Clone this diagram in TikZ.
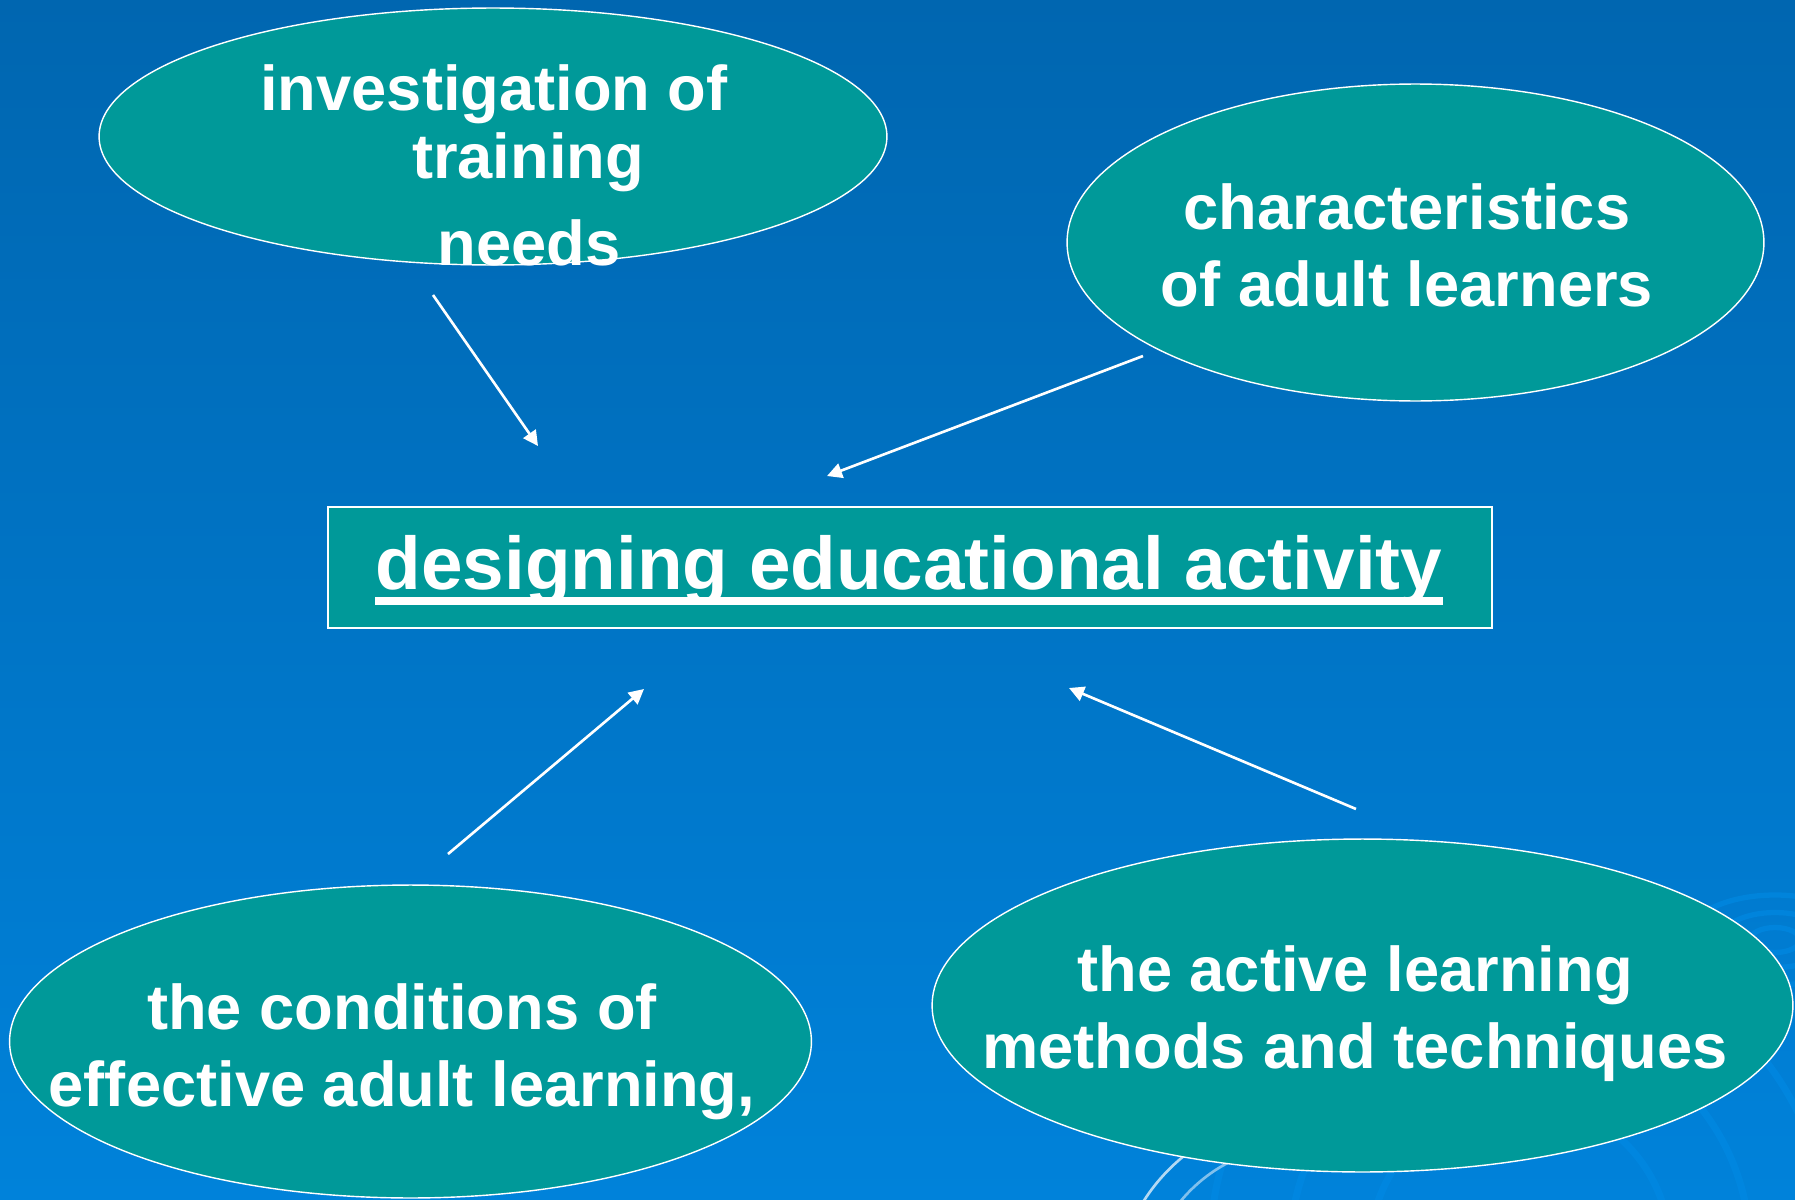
\documentclass[tikz,border=0pt]{standalone}
\usepackage{fontspec}
\setmainfont{Liberation Sans}
\usetikzlibrary{arrows.meta,shapes.geometric,calc}

\definecolor{slideblue}{RGB}{0,102,176}
\definecolor{slidebluelow}{RGB}{0,130,218}
\definecolor{ripple}{RGB}{0,138,228}
\definecolor{bubbleteal}{RGB}{0,153,153}

\tikzset{
  bubble/.style={ellipse, draw=white, line width=0.8pt, fill=bubbleteal, inner sep=0pt},
  bubbletext/.style={text=white, font=\bfseries\fontsize{36}{43.7}\selectfont, align=center, anchor=base, inner sep=0pt},
  feed/.style={draw=white, line width=1.5pt, -{Triangle[length=0.3cm,width=0.3cm]}},
}

\begin{document}
\begin{tikzpicture}[x=0.02cm,y=-0.02cm]
  \useasboundingbox (0,0) rectangle (1795,1200);
  %%%%% BACKGROUND %%%%%
  \shade[top color=slideblue, middle color=slideblue!92!slidebluelow, bottom color=slidebluelow] (0,0) rectangle (1795,1200);
  \begin{scope}
    \clip (0,0) rectangle (1795,1200);
    \foreach \r in {25,55,90}
      \draw[ripple, opacity=0.6, line width=3pt] (1775,940) ellipse [x radius=\r, y radius=0.5*\r];
    \foreach \r in {150,230,310}
      \draw[ripple, opacity=0.6, line width=4pt] (1520,1250) circle [radius=\r];
  \end{scope}
  \begin{scope}
    \clip (1100,1100) rectangle (1240,1200);
    \draw[white, opacity=0.7, line width=1.5pt] (1300,1300) circle [radius=185];
    \draw[white, opacity=0.5, line width=1.5pt] (1300,1300) circle [radius=155];
  \end{scope}

  %%%%% BUBBLES %%%%%
  \node[bubble, minimum width=15.76cm, minimum height=5.14cm] (needs) at (493,136.5) {};
  \node[bubble, minimum width=13.94cm, minimum height=6.34cm] (learners) at (1415.5,242.5) {};
  \node[bubble, minimum width=16.04cm, minimum height=6.26cm] (conditions) at (410.5,1041.5) {};
  \node[bubble, minimum width=17.22cm, minimum height=6.66cm] (methods) at (1362.5,1005.5) {};

  % two-line labels sit on the baseline of their last line
  \node[bubbletext] (needsA) at (494,110) {investigation of};
  \node[bubbletext] (needsB) at (528,178) {training};
  \node[bubbletext] (needsC) at (529,265) {needs};
  \node[bubbletext] (learnerstext) at (1407,306) {characteristics\\of adult learners};
  \node[bubbletext] (conditionstext) at (402,1106) {the conditions of\\effective adult learning,};
  \node[bubbletext] (methodstext) at (1355,1068) {the active learning\\methods and techniques};

  %%%%% CENTRE BOX %%%%%
  \node[draw=white, line width=1.2pt, fill=bubbleteal, minimum width=23.29cm, minimum height=2.42cm, inner sep=0pt] (design) at (910,567.5) {};
  \node[text=white, font=\bfseries\fontsize{42.5}{50}\selectfont, anchor=base, inner sep=0pt] (designtext) at (909,589) {designing educational activity};
  \draw[white, line width=4pt] ($(designtext.base west)+(0,12)$) -- ($(designtext.base east)+(0,12)$);

  %%%%% ARROWS %%%%%
  \coordinate (fromneeds) at (433,295);
  \coordinate (toneeds) at (538,446);
  \coordinate (fromlearners) at (1143,356);
  \coordinate (tolearners) at (827,476);
  \coordinate (fromconditions) at (448,854);
  \coordinate (toconditions) at (644,689);
  \coordinate (frommethods) at (1356,809);
  \coordinate (tomethods) at (1069,688);
  \draw[feed] (fromneeds) -- (toneeds);
  \draw[feed] (fromlearners) -- (tolearners);
  \draw[feed] (fromconditions) -- (toconditions);
  \draw[feed] (frommethods) -- (tomethods);
\end{tikzpicture}
\end{document}
